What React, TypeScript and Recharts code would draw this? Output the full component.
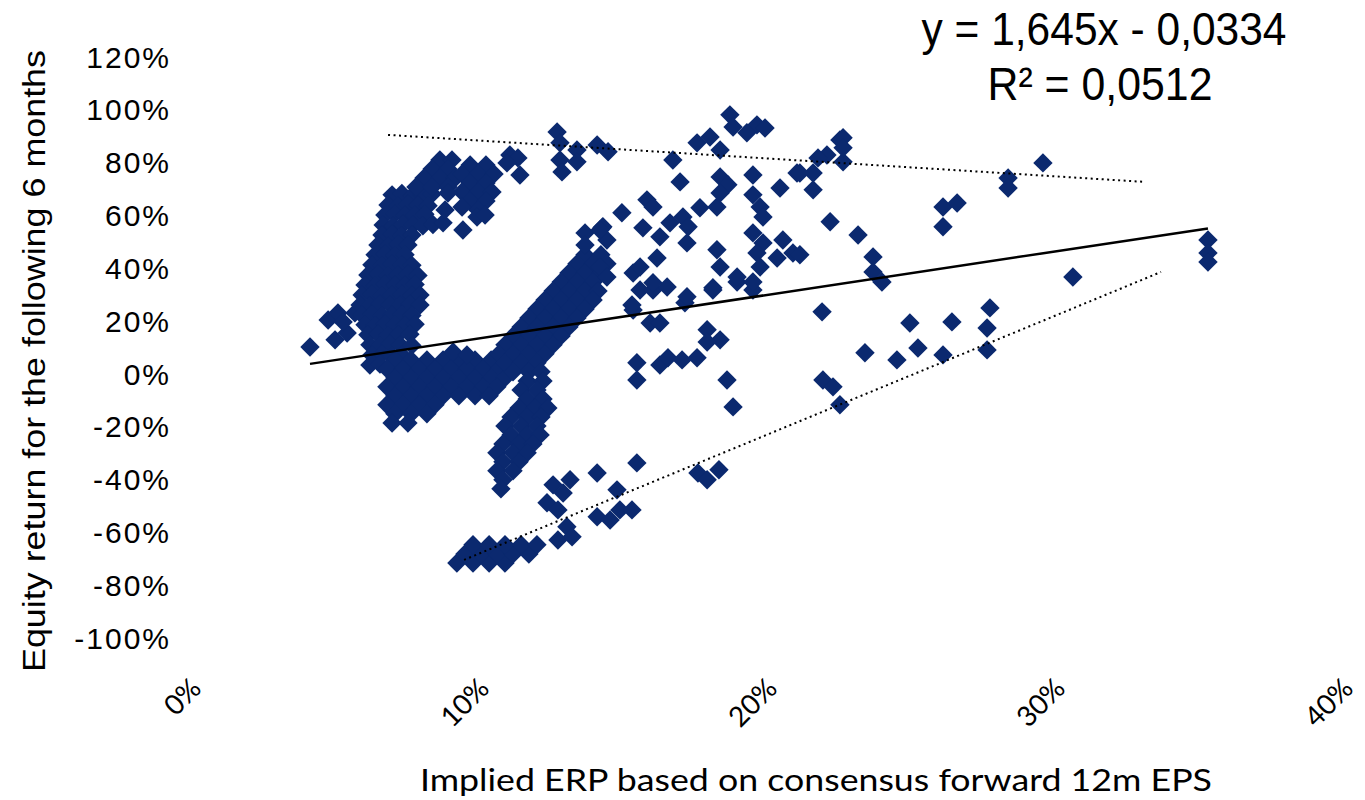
import React from 'react';
import { ScatterChart, Scatter, XAxis, YAxis } from 'recharts';

type Pt = [number, number]; // [ERP %, 6m return %]

const xTicks = [0, 10, 20, 30, 40];
const yTicks = [-100, -80, -60, -40, -20, 0, 20, 40, 60, 80, 100, 120];

// points left of the main loop
const leftEdge: Pt[] = [
  [4.34, 10.2], [4.97, 20.4], [5.31, 23.1], [5.21, 12.9], [5.63, 15.5], [5.9, 23.1], [5.49, 19.7],
];

// dense vertical band of the left loop
const leftBand: Pt[] = [
  [7.19, 67.8], [7.53, 68.3], [7.88, 67.4], [8.23, 67.8], [8.58, 68.1],
  [7.05, 64.0], [7.4, 63.6], [7.74, 64.2], [8.09, 64.0], [8.44, 63.7],
  [6.94, 60.2], [7.29, 60.6], [7.64, 60.0], [7.99, 60.2], [8.33, 60.5],
  [6.88, 56.4], [7.22, 56.0], [7.57, 56.6], [7.92, 56.4], [8.26, 56.1], [8.61, 56.6],
  [6.84, 52.6], [7.19, 52.9], [7.53, 52.3], [7.88, 52.6],
  [6.7, 48.8], [7.05, 48.5], [7.4, 49.1], [7.74, 48.8],
  [6.6, 45.1], [6.94, 45.4], [7.29, 44.8], [7.64, 45.1],
  [6.49, 41.3], [6.84, 41.0], [7.19, 41.6], [7.53, 41.3], [7.88, 41.1],
  [6.35, 37.5], [6.7, 37.8], [7.05, 37.2], [7.4, 37.5], [7.74, 37.7], [8.09, 37.3],
  [6.25, 33.7], [6.6, 33.4], [6.94, 34.0], [7.29, 33.7], [7.64, 33.5], [7.99, 33.9],
  [6.15, 29.9], [6.49, 30.2], [6.84, 29.6], [7.19, 29.9], [7.53, 30.1], [7.88, 29.7], [8.16, 29.9],
  [6.08, 26.1], [6.42, 25.8], [6.77, 26.4], [7.12, 26.1], [7.47, 25.9], [7.81, 26.3], [8.16, 26.1],
  [6.15, 22.3], [6.49, 22.6], [6.84, 22.0], [7.19, 22.3], [7.53, 22.5], [7.88, 22.1],
  [6.25, 18.6], [6.6, 18.3], [6.94, 18.9], [7.29, 18.6], [7.64, 18.4], [7.99, 18.8],
  [6.35, 14.8], [6.7, 15.1], [7.05, 14.5], [7.4, 14.8], [7.81, 15.0],
  [6.42, 11.0], [6.77, 10.7], [7.12, 11.3], [7.47, 11.0], [7.88, 10.8],
  [6.49, 7.2], [6.84, 7.5], [7.19, 6.9], [7.53, 7.2],
  [6.42, 3.4], [6.77, 3.7], [7.29, 3.1],
];

// upper arm of the loop
const loopTop: Pt[] = [
  [8.85, 81.0], [9.27, 81.0], [8.58, 77.6], [9.13, 77.6], [8.3, 74.2], [8.85, 74.2], [9.38, 74.2],
  [8.02, 70.8], [8.58, 70.8], [9.13, 70.8],
  [9.9, 79.1], [10.45, 79.1], [9.62, 75.7], [10.17, 75.7], [10.73, 75.7], [9.9, 72.3], [10.45, 72.3],
  [9.62, 68.9], [10.17, 68.9], [10.66, 68.9], [9.9, 65.5], [10.45, 65.5], [10.17, 62.1],
  [9.13, 68.5], [9.62, 63.2], [9.65, 54.5], [8.96, 57.2], [9.03, 62.1], [10.14, 59.4], [10.42, 60.2],
  [11.28, 82.9], [11.56, 81.8], [11.18, 79.9], [11.63, 75.3],
];

// bottom of the loop, around 0%
const loopBottom: Pt[] = [
  [7.29, 5.3], [7.85, 5.3], [8.4, 5.3], [8.96, 5.3], [9.51, 5.3], [10.07, 5.3], [10.63, 5.3],
  [7.01, 1.9], [7.57, 1.9], [8.13, 1.9], [8.68, 1.9], [9.24, 1.9], [9.79, 1.9], [10.35, 1.9], [10.9, 1.9],
  [7.29, -1.5], [7.85, -1.5], [8.4, -1.5], [8.96, -1.5], [9.51, -1.5], [10.07, -1.5], [10.63, -1.5], [11.11, -1.5],
  [7.01, -4.9], [7.57, -4.9], [8.13, -4.9], [8.68, -4.9], [9.24, -4.9], [9.79, -4.9], [10.35, -4.9], [10.83, -4.9],
  [7.29, -8.3], [7.85, -8.3], [8.4, -8.3], [8.96, -8.3], [9.51, -8.3], [10.07, -8.3], [10.56, -8.3],
  [7.01, -11.7], [7.57, -11.7], [8.13, -11.7], [8.68, -11.7],
  [7.29, -15.1], [7.85, -15.1], [8.4, -15.1],
  [7.19, -18.6], [7.74, -18.6],
  [9.31, 8.3], [9.79, 7.2],
];

// rising diagonal band 11%-15%
const diagonalBand: Pt[] = [
  [13.89, 45.1], [14.44, 45.1],
  [13.61, 41.7], [14.17, 41.7], [14.65, 41.7],
  [13.33, 38.2], [13.89, 38.2], [14.44, 38.2],
  [13.06, 34.8], [13.61, 34.8], [14.17, 34.8],
  [12.78, 31.4], [13.33, 31.4], [13.89, 31.4], [14.34, 31.4],
  [12.5, 28.0], [13.06, 28.0], [13.61, 28.0], [14.17, 28.0],
  [12.22, 24.6], [12.78, 24.6], [13.33, 24.6], [13.89, 24.6],
  [11.94, 21.2], [12.5, 21.2], [13.06, 21.2], [13.61, 21.2],
  [11.67, 17.8], [12.22, 17.8], [12.78, 17.8], [13.33, 17.8],
  [11.39, 14.4], [11.94, 14.4], [12.5, 14.4], [13.06, 14.4],
  [11.11, 11.0], [11.67, 11.0], [12.22, 11.0], [12.78, 11.0],
  [10.9, 7.6], [11.39, 7.6], [11.94, 7.6], [12.5, 7.6],
  [11.11, 4.2], [11.67, 4.2], [12.22, 4.2],
  [11.39, 0.8], [11.94, 0.8], [12.36, 0.8],
  [14.48, 55.3], [14.65, 50.7], [13.89, 53.4], [13.89, 48.8],
];

// tail dropping from the band to -45%
const downTail: Pt[] = [
  [11.88, -2.7], [12.43, -2.7],
  [11.67, -6.1], [12.22, -6.1],
  [11.88, -9.5], [12.43, -9.5],
  [11.6, -12.9], [12.15, -12.9], [12.6, -12.9],
  [11.32, -16.3], [11.88, -16.3], [12.36, -16.3],
  [11.11, -19.7], [11.67, -19.7], [12.22, -19.7],
  [11.32, -23.1], [11.88, -23.1], [12.33, -23.1],
  [11.04, -26.5], [11.6, -26.5], [12.08, -26.5],
  [10.83, -29.9], [11.39, -29.9], [11.88, -29.9],
  [11.04, -33.3], [11.6, -33.3],
  [10.83, -36.7], [11.39, -36.7],
  [11.04, -40.1],
  [10.97, -43.5],
];

// bottom arm near -70%
const lowerArm: Pt[] = [
  [9.44, -71.6], [10.0, -71.6], [10.56, -71.6], [11.11, -71.6],
  [9.72, -68.2], [10.28, -68.2], [10.83, -68.2], [11.39, -68.2], [11.94, -68.2],
  [10.0, -64.7], [10.56, -64.7], [11.11, -64.7], [11.67, -64.7], [12.22, -64.7],
];

const lowerMid: Pt[] = [
  [12.78, -42.0], [13.37, -40.1], [13.13, -45.1], [12.57, -48.8], [12.95, -51.5], [13.26, -57.9],
  [12.95, -62.9], [13.44, -61.7], [14.31, -37.5], [15.0, -43.9], [14.31, -54.1], [14.76, -55.3],
  [15.1, -51.5], [15.52, -51.5], [15.69, -33.7], [17.81, -37.5], [18.13, -40.1], [18.54, -36.3],
];

const midScatter: Pt[] = [
  [22.12, 23.5], [22.15, -2.3], [22.5, -4.9], [22.74, -11.7], [18.82, -2.3], [19.03, -12.5],
  [18.13, 16.7], [18.58, 12.9], [18.13, 12.1], [15.69, 4.2], [15.69, -2.3], [16.49, 3.4],
  [16.77, 6.1], [17.26, 5.3], [17.78, 6.1], [15.56, 24.2], [16.15, 19.3], [16.49, 19.3],
  [15.8, 31.8], [16.25, 31.8], [16.74, 32.9], [17.36, 26.9], [18.33, 31.8], [19.17, 34.8],
  [19.72, 31.8], [15.52, 26.1], [17.43, 29.2], [16.25, 34.5],
];

const upperScatter: Pt[] = [
  [12.92, 91.6], [13.02, 87.5], [13.61, 84.8], [13.02, 81.0], [13.61, 80.3], [13.09, 76.5],
  [14.31, 86.7], [14.69, 84.1], [15.17, 61.0], [15.56, 38.2], [16.94, 81.0], [17.19, 72.7],
  [16.04, 65.9], [16.25, 63.2], [14.51, 55.7], [15.9, 55.3], [16.49, 51.9], [16.84, 57.2],
  [17.29, 59.4], [17.47, 55.7], [17.43, 49.6], [17.88, 62.9], [18.47, 63.2], [18.58, 74.6],
  [18.85, 71.6], [18.58, 68.5], [17.78, 87.5], [18.23, 89.7], [18.58, 84.8], [18.92, 98.1],
  [19.03, 93.5], [19.86, 94.3], [19.51, 91.3], [20.14, 93.1], [19.72, 75.3], [19.72, 67.8],
  [19.97, 63.2], [20.07, 59.4], [19.72, 53.4], [20.07, 49.6], [19.86, 45.8], [19.97, 40.5],
  [19.72, 34.8], [18.47, 47.0], [18.58, 40.5], [19.17, 36.7], [18.33, 32.6], [20.66, 70.4],
  [21.25, 76.1], [21.81, 76.1], [21.81, 69.7], [20.76, 50.7], [21.11, 45.8], [20.56, 43.9],
  [22.4, 57.6], [22.29, 82.9], [22.74, 88.6], [22.85, 80.3], [15.8, 40.5], [16.39, 43.9],
  [14.41, 40.5], [14.65, 36.7], [14.41, 54.5],
];

const rightScatter: Pt[] = [
  [22.85, 89.4], [22.85, 85.6], [21.98, 81.8], [21.35, 76.1], [23.37, 52.6], [23.89, 44.3],
  [23.89, 38.6], [24.2, 34.8], [21.35, 45.1], [25.17, 19.3], [23.61, 8.0], [24.72, 5.3],
  [25.45, 9.8], [26.32, 7.2], [26.63, 19.7], [27.95, 25.0], [27.85, 17.4], [27.85, 9.1],
  [26.32, 63.2], [26.81, 64.7], [26.32, 55.7], [28.58, 74.2], [28.58, 70.4], [29.79, 79.9],
  [30.83, 36.7], [35.52, 50.7], [35.52, 45.8], [35.52, 42.4],
];

// linear trend (y = 1,645x - 0,0334) and the two dotted envelope lines
const trendLine: Pt[] = [[4.34, 3.8], [35.52, 55.1]];
const upperBound: Pt[] = [[7.05, 90.5], [33.33, 72.7]];
const lowerBound: Pt[] = [[9.69, -70.4], [33.89, 38.6]];

const toRows = (pts: Pt[]) => pts.map(([x, y]) => ({ x, y }));

const points = toRows([
  ...leftEdge, ...leftBand, ...loopTop, ...loopBottom, ...diagonalBand, ...downTail,
  ...lowerArm, ...lowerMid, ...midScatter, ...upperScatter, ...rightScatter,
]);

const NAVY = '#0b296f';

const Diamond = (props: any) => {
  const { cx, cy } = props;
  if (cx == null || cy == null) return <g />;
  const r = 9.7;
  return (
    <polygon
      points={`${cx},${cy - r} ${cx + r},${cy} ${cx},${cy + r} ${cx - r},${cy}`}
      fill={NAVY}
    />
  );
};

const NoDot = () => <g />;

const XTick = (props: any) => {
  const { x, y, payload } = props;
  const ax = x + 18;
  const ay = y + 52;
  return (
    <text
      x={ax}
      y={ay}
      transform={`rotate(-45 ${ax} ${ay})`}
      textAnchor="end"
      fontFamily="Lato"
      fontSize={28}
      fill="#000"
    >
      {payload.value}%
    </text>
  );
};

const App: React.FC = () => {
  return (
    <div style={{ position: 'absolute', left: 0, top: 0, width: 1365, height: 800, background: '#fff' }}>
      <ScatterChart width={1365} height={800} margin={{ top: 57, right: 28, bottom: 0, left: 0 }}>
        <XAxis
          type="number"
          dataKey="x"
          domain={[0, 40]}
          ticks={xTicks}
          axisLine={false}
          tickLine={false}
          tickSize={0}
          tickMargin={0}
          height={162}
          tick={<XTick />}
          allowDataOverflow
        />
        <YAxis
          type="number"
          dataKey="y"
          domain={[-100, 120]}
          ticks={yTicks}
          axisLine={false}
          tickLine={false}
          tickSize={6}
          tickMargin={8}
          width={185}
          tickFormatter={(v: number) => `${v}%`}
          tick={{ fontFamily: 'Liberation Sans', fontSize: 30, fill: '#000', letterSpacing: 2 }}
          allowDataOverflow
        />
        <Scatter data={points} shape={<Diamond />} isAnimationActive={false} />
        <Scatter
          data={toRows(upperBound)}
          line={{ stroke: '#000', strokeWidth: 2, strokeDasharray: '2 3.5' }}
          shape={<NoDot />}
          isAnimationActive={false}
        />
        <Scatter
          data={toRows(lowerBound)}
          line={{ stroke: '#000', strokeWidth: 2, strokeDasharray: '2 3.5' }}
          shape={<NoDot />}
          isAnimationActive={false}
        />
        <Scatter
          data={toRows(trendLine)}
          line={{ stroke: '#000', strokeWidth: 2.5 }}
          shape={<NoDot />}
          isAnimationActive={false}
        />
      </ScatterChart>
      <svg
        width={1365}
        height={800}
        style={{ position: 'absolute', left: 0, top: 0, pointerEvents: 'none' }}
      >
        <text
          x={45}
          y={361}
          transform="rotate(-90 45 361)"
          textAnchor="middle"
          fontFamily="Liberation Sans"
          fontSize={32}
          textLength={622}
          lengthAdjust="spacingAndGlyphs"
          fill="#000"
        >
          Equity return for the following 6 months
        </text>
        <text
          x={816}
          y={791}
          textAnchor="middle"
          fontFamily="Lato"
          fontSize={30}
          textLength={792}
          lengthAdjust="spacingAndGlyphs"
          fill="#000"
        >
          Implied ERP based on consensus forward 12m EPS
        </text>
        <text
          x={1104}
          y={45}
          textAnchor="middle"
          fontFamily="Liberation Sans"
          fontSize={46}
          textLength={365}
          lengthAdjust="spacingAndGlyphs"
          fill="#000"
        >
          y = 1,645x - 0,0334
        </text>
        <text
          x={1100}
          y={100}
          textAnchor="middle"
          fontFamily="Liberation Sans"
          fontSize={46}
          textLength={225}
          lengthAdjust="spacingAndGlyphs"
          fill="#000"
        >
          R² = 0,0512
        </text>
      </svg>
    </div>
  );
};

export default App;
